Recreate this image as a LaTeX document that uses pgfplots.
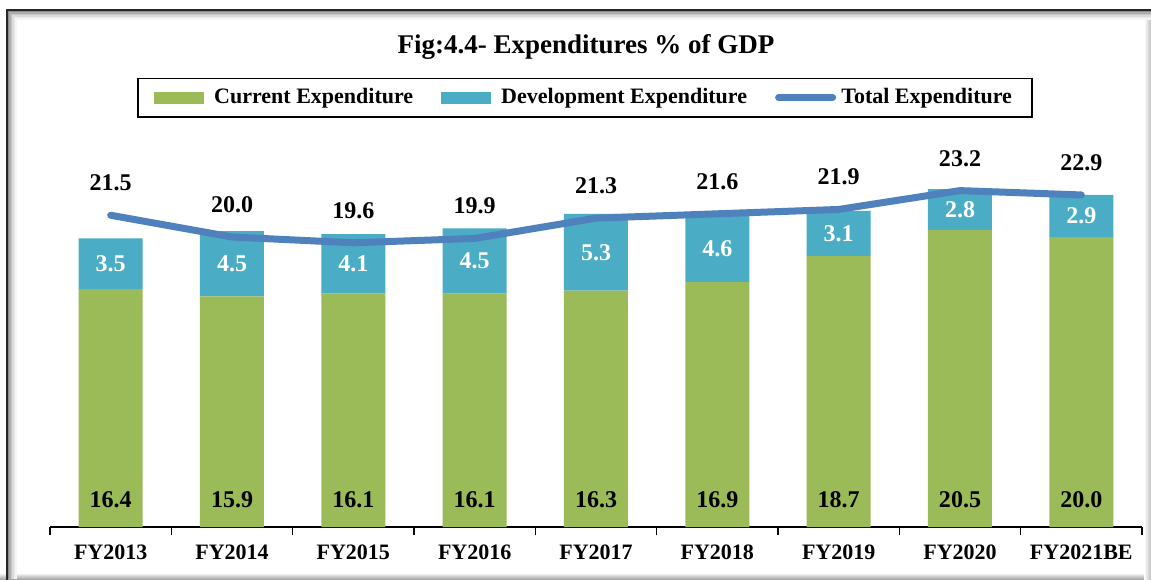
\documentclass[border=0pt]{standalone}
\usepackage{fontspec}
\setmainfont{Liberation Serif}
\usepackage{pgfplots}
\pgfplotsset{compat=1.18}
\usepackage{pgfplotstable}
\definecolor{curg}{HTML}{9BBB59}
\definecolor{devb}{HTML}{4BACC6}
\definecolor{totb}{HTML}{4F81BD}

\pgfplotstableread{
x cur dev tot
0 16.4 3.5 21.5
1 15.9 4.5 20.0
2 16.1 4.1 19.6
3 16.1 4.5 19.9
4 16.3 5.3 21.3
5 16.9 4.6 21.6
6 18.7 3.1 21.9
7 20.5 2.8 23.2
8 20.0 2.9 22.9
}\data

\pgfplotsset{
  common/.style={
    at={(25pt,26pt)}, anchor=south west,
    scale only axis, width=546pt, height=217.5pt,
    xmin=-0.5, xmax=8.5, ymin=0, ymax=30,
    clip=false,
  }
}

\begin{document}
\begin{tikzpicture}
\useasboundingbox (0,0) rectangle (575.5pt,289.5pt);
\fill[white] (0,0) rectangle (575.5pt,289.5pt);
% frame and shadow
\shade[top color=white, bottom color=black!35] (0,0) rectangle (575.5pt,3pt);
\shade[left color=white, right color=black!25] (572pt,0) rectangle (575.5pt,284.5pt);
\foreach \k/\g in {1/45,2/32,3/22,4/14,5/8,6/4}{
  \draw[black!\g, line width=0.75pt] ({3.5pt+0.75pt*\k},0pt) -- ({3.5pt+0.75pt*\k},{284.5pt-0.75pt*\k}) -- (580pt,{284.5pt-0.75pt*\k});
}
\draw[black!85, line width=1.2pt] (3.5pt,-2pt) -- (3.5pt,284.5pt) -- (580pt,284.5pt);

\node[font=\fontsize{13.5}{16}\selectfont\bfseries] at (293pt,266pt) {Fig:4.4- Expenditures \% of GDP};

\begin{axis}[common,
  ybar stacked, bar width=32pt,
  axis y line=none, axis x line*=bottom,
  axis line style={black, line width=0.8pt},
  xtick={0,...,8},
  xticklabels={FY2013,FY2014,FY2015,FY2016,FY2017,FY2018,FY2019,FY2020,FY2021BE},
  major tick length=0pt,
  minor xtick={-0.5,0.5,...,8.5},
  minor tick length=4pt, tick align=outside,
  minor x tick style={black, line width=0.8pt},
  xticklabel style={font=\fontsize{11}{13}\selectfont\bfseries, yshift=-5.5pt},
  legend columns=3,
  legend style={at={(0.49,0.987)}, anchor=center, draw=black, line width=0.8pt,
    font=\fontsize{11}{13}\selectfont\bfseries, inner xsep=8pt, inner ysep=3pt,
    /tikz/every even column/.append style={column sep=12pt}},
  legend cell align=left,
]
\addplot[fill=curg, draw=none,
  legend image code/.code={\fill[curg] (0pt,-3pt) rectangle (25pt,3pt); \path (28pt,0pt);}]
  table[x=x,y=cur]{\data};
\addlegendentry{Current Expenditure}
\addplot[fill=devb, draw=none,
  legend image code/.code={\fill[devb] (0pt,-3pt) rectangle (25pt,3pt); \path (28pt,0pt);}]
  table[x=x,y=dev]{\data};
\addlegendentry{Development Expenditure}
\addlegendimage{legend image code/.code={\draw[totb, line width=3.5pt, line cap=round] (0pt,0pt) -- (27pt,0pt); \path (29pt,0pt);}}
\addlegendentry{Total Expenditure}
\end{axis}

\begin{axis}[common, hide axis,
  /pgf/number format/fixed, /pgf/number format/fixed zerofill,
  /pgf/number format/precision=1, /pgf/number format/assume math mode=true,
]
\addplot[totb, line width=3.5pt, line cap=round, line join=round, mark=none,
  nodes near coords, point meta=explicit,
  every node near coord/.append style={text=black, anchor=south, yshift=7pt,
    font=\fontsize{12}{14}\selectfont\bfseries}]
  table[x=x,y=tot,meta=tot]{\data};
\addplot[draw=none, mark=none,
  nodes near coords, point meta=explicit,
  every node near coord/.append style={text=white, anchor=center,
    font=\fontsize{12}{14}\selectfont\bfseries}]
  table[x=x,y expr=\thisrow{cur}+0.5*\thisrow{dev},meta=dev]{\data};
\addplot[draw=none, mark=none,
  nodes near coords, point meta=explicit,
  every node near coord/.append style={text=black, anchor=center, yshift=13.5pt,
    font=\fontsize{12}{14}\selectfont\bfseries}]
  table[x=x,y expr=0,meta=cur]{\data};
\end{axis}
\end{tikzpicture}
\end{document}
